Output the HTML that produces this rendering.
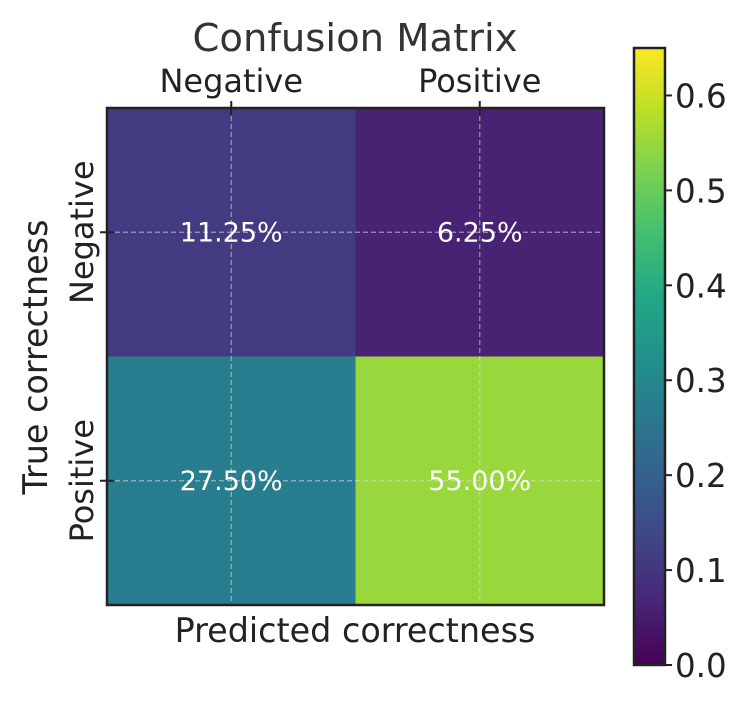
<!DOCTYPE html>
<html><head><meta charset="utf-8"><style>
html,body{margin:0;padding:0;background:#fff;}
svg{display:block;font-family:"DejaVu Sans","Liberation Sans",sans-serif;}
</style></head><body>
<svg id="chart" width="747" height="705" viewBox="0 0 747 705">
<defs>
<linearGradient id="vgrad" x1="0" y1="1" x2="0" y2="0"></linearGradient>
</defs>
<text x="355" y="51" text-anchor="middle" font-size="38.5" fill="#333">Confusion Matrix</text>
<text x="355" y="642" text-anchor="middle" font-size="33.4" fill="#222">Predicted correctness</text>
<text transform="translate(47,357) rotate(-90)" text-anchor="middle" font-size="33.4" fill="#222">True correctness</text>
<g id="cells"></g>
<g id="cbar"></g>
</svg>
<script>
const xCategories=["Negative","Positive"];
const yCategories=["Negative","Positive"];
const rowNeg=[0.1125,0.0625];
const rowPos=[0.275,0.55];
const cbarTicks=[0.0,0.1,0.2,0.3,0.4,0.5,0.6];
const vmax=0.65;
const viridis=["#440154","#482475","#414487","#355f8d","#2a788e","#21918c","#22a884","#44bf70","#7ad151","#bddf26","#fde725"];
const values=[rowNeg,rowPos];
const NS="http://www.w3.org/2000/svg";
function mk(t,a,p){const e=document.createElementNS(NS,t);for(const k in a)e.setAttribute(k,a[k]);(p||document.getElementById('chart')).appendChild(e);return e;}
function hex(h){return [1,3,5].map(i=>parseInt(h.substr(i,2),16));}
function cmap(v){let t=Math.max(0,Math.min(1,v/vmax))*(viridis.length-1);let i=Math.min(Math.floor(t),viridis.length-2);let f=t-i;const a=hex(viridis[i]),b=hex(viridis[i+1]);return "rgb("+a.map((c,k)=>Math.round(c+(b[k]-c)*f)).join(",")+")";}
const L=107,T=108,W=497,H=497;
const cw=W/xCategories.length,ch=H/yCategories.length;
const xc=i=>L+cw*(i+0.5), yc=j=>T+ch*(j+0.5);
const cells=document.getElementById('cells');
values.forEach((row,j)=>row.forEach((v,i)=>{
 const r=mk('rect',{x:L+cw*i,y:T+ch*j,width:cw,height:ch,fill:cmap(v)},cells);
 
 
}));
xCategories.forEach((c,i)=>{const g=mk('line',{x1:xc(i),x2:xc(i),y1:T,y2:T+H,stroke:"rgba(220,220,220,0.6)","stroke-dasharray":"5,3","stroke-width":1.2},cells);

});
yCategories.forEach((c,j)=>{const g=mk('line',{x1:L,x2:L+W,y1:yc(j),y2:yc(j),stroke:"rgba(220,220,220,0.6)","stroke-dasharray":"5,3","stroke-width":1.2},cells);

});
values.forEach((row,j)=>row.forEach((v,i)=>{
 const t=mk('text',{x:xc(i),y:yc(j)+9,"text-anchor":"middle","font-size":27,fill:"#fff"},cells);
 t.textContent=(v*100).toFixed(2)+"%";
 
 
}));
const fr=mk('rect',{x:L,y:T,width:W,height:H,fill:"none",stroke:"#222","stroke-width":2.5},cells);


xCategories.forEach((c,i)=>{
 const k=mk('line',{x1:xc(i),x2:xc(i),y1:T-7,y2:T+7,stroke:"#222","stroke-width":2},cells);
 
 
 const t=mk('text',{x:xc(i),y:92,"text-anchor":"middle","font-size":32,fill:"#222"},cells);
 t.textContent=c;
 
 
});
yCategories.forEach((c,j)=>{
 const k=mk('line',{x1:L-7,x2:L+7,y1:yc(j),y2:yc(j),stroke:"#222","stroke-width":2},cells);
 
 
 const t=mk('text',{transform:"translate(93,"+yc(j)+") rotate(-90)","text-anchor":"middle","font-size":32,fill:"#222"},cells);
 t.textContent=c;
 
 
});
const grad=document.getElementById('vgrad');
viridis.forEach((c,i)=>mk('stop',{offset:(i/(viridis.length-1)),"stop-color":c},grad));
const CX=634,CW=31,CB=665,CT=48;
const cy=v=>CB-(v/vmax)*(CB-CT);
const cb=document.getElementById('cbar');
const cr=mk('rect',{x:CX,y:CT,width:CW,height:CB-CT,fill:"url(#vgrad)",stroke:"#222","stroke-width":2.5},cb);


cbarTicks.forEach(v=>{
 const k=mk('line',{x1:CX+CW,x2:CX+CW+7,y1:cy(v),y2:cy(v),stroke:"#222","stroke-width":2},cb);
 
 
 const t=mk('text',{x:CX+CW+10,y:cy(v)+12,"font-size":32.5,fill:"#222"},cb);
 t.textContent=v.toFixed(1);
 
 
});
</script>
</body></html>
